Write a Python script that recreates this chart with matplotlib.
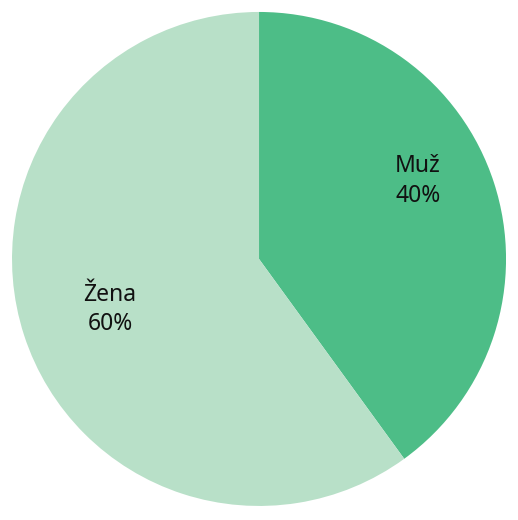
import matplotlib.pyplot as plt

# Pohlaví respondentů
labels = ["Muž", "Žena"]
shares = [40, 60]
colors = ["#4dbd87", "#b8e0c8"]

fig = plt.figure(figsize=(5.18, 5.20), dpi=100)
ax = fig.add_axes([0.0232, 0.027, 0.9537, 0.95])

wedges, _ = ax.pie(shares, colors=colors, startangle=90, counterclock=False,
                   radius=1.0, wedgeprops=dict(linewidth=0))
ax.set_xlim(-1, 1)
ax.set_ylim(-1, 1)
ax.set_aspect("auto")
ax.axis("off")

# popisky uvnitř výsečí
label_pos = [(0.644, 0.315), (-0.603, -0.205)]
for (x, y), lab, val in zip(label_pos, labels, shares):
    ax.text(x, y, f"{lab}\n{val}%", ha="center", va="center",
            fontsize=16.5, family="Noto Sans", color="#111111", linespacing=1.3)

fig.savefig("out.png", dpi=100)
